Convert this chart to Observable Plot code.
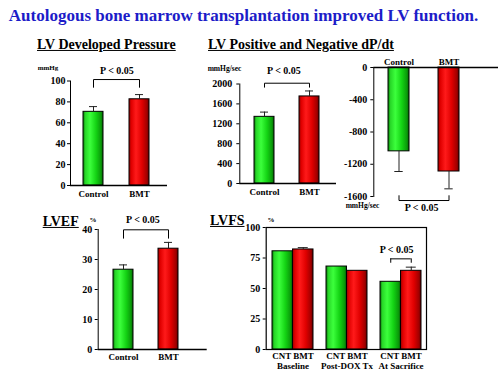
<!DOCTYPE html>
<html><head><meta charset="utf-8">
<script src="https://cdn.jsdelivr.net/npm/d3@7"></script>
<script src="https://cdn.jsdelivr.net/npm/@observablehq/plot@0.6"></script>
<style>
body{margin:0;background:#fff}
#root{position:relative;width:500px;height:375px;background:#fff;font-family:"Liberation Serif","DejaVu Serif",serif;font-weight:700;color:#000}
#root svg.plotsvg{position:absolute;left:0;top:0}
.t{position:absolute;white-space:nowrap;line-height:1.15}
</style></head><body>
<div id="root">
<svg width="0" height="0" style="position:absolute;left:0;top:0">
<defs>
<linearGradient id="gGreen" x1="0" x2="1" y1="0" y2="0">
<stop offset="0" stop-color="#0c7a0c"/><stop offset="0.12" stop-color="#28d828"/><stop offset="0.35" stop-color="#3cff3c"/><stop offset="0.65" stop-color="#14d414"/><stop offset="0.9" stop-color="#0a9a0a"/><stop offset="1" stop-color="#066006"/>
</linearGradient>
<linearGradient id="gRed" x1="0" x2="1" y1="0" y2="0">
<stop offset="0" stop-color="#9a0000"/><stop offset="0.12" stop-color="#e00000"/><stop offset="0.35" stop-color="#ff1a1a"/><stop offset="0.65" stop-color="#e00000"/><stop offset="0.9" stop-color="#a00000"/><stop offset="1" stop-color="#600000"/>
</linearGradient>
</defs></svg>
</div>
<script>
// ---------- data ----------
const mainTitle = "Autologous bone marrow transplantation improved LV function.";
const panelTitles = ["LV Developed Pressure", "LV Positive and Negative dP/dt", "LVEF", "LVFS"];
const groups2 = ["Control", "BMT"];
const devPressure = [70.5, 82.5];
const devPressureErr = [5, 4.5];
const devTicks = [0, 20, 40, 60, 80, 100];
const dpdtPos = [1340, 1750];
const dpdtPosErr = [95, 110];
const dpdtPosTicks = [0, 400, 800, 1200, 1600, 2000];
const dpdtNeg = [-1040, -1290];
const dpdtNegErr = [250, 215];
const dpdtNegTicks = [0, -400, -800, -1200, -1600];
const lvef = [26.6, 33.6];
const lvefErr = [1.6, 2.1];
const lvefTicks = [0, 10, 20, 30, 40];
const fsStages = ["Baseline", "Post-DOX Tx", "At Sacrifice"];
const fsCNT = [80.5, 68, 55.5];
const fsBMT = [82, 64.5, 64.5];
const fsBMTErr = [1.5, 0, 3];
const fsTicks = [0, 25, 50, 75, 100];
const pText = "P < 0.05";

const root = document.getElementById("root");
const FONT = "'Liberation Serif', 'DejaVu Serif', serif";

function label(txt, x, y, o = {}) {
  const d = document.createElement("div");
  d.className = "t";
  d.textContent = txt;
  d.style.left = x + "px";
  d.style.top = y + "px";
  d.style.fontSize = (o.size || 10) + "px";
  if (o.color) d.style.color = o.color;
  if (o.underline) d.style.textDecoration = "underline";
  const a = o.anchor || "middle";
  d.style.transform = `translate(${a === "middle" ? "-50%" : a === "end" ? "-100%" : "0"}, -50%)`;
  root.appendChild(d);
}

function place(svg) {
  svg.classList.add("plotsvg");
  root.appendChild(svg);
}

const baseStyle = {background: "transparent", fontFamily: FONT, fontWeight: "700", fontSize: "10px", color: "#000", overflow: "visible"};

function twoBarPanel(p) {
  const neg = p.vals[0] < 0;
  const rows = groups2.map((g, i) => ({g, v: p.vals[i], e: p.errs[i], top: p.vals[i] + (neg ? -1 : 1) * p.errs[i]}));
  const c0 = p.c0, c1 = p.c1, bw = p.bw;
  const bracket = [
    {g: groups2[0], y: p.bracket[0]}, {g: groups2[0], y: p.bracket[1]},
    {g: groups2[1], y: p.bracket[1]}, {g: groups2[1], y: p.bracket[0]}
  ];
  const svg = Plot.plot({
    width: 500, height: 375,
    marginLeft: p.ml, marginRight: p.mr, marginTop: p.mt, marginBottom: p.mb,
    style: baseStyle,
    x: {type: "band", domain: groups2, range: [c0 - bw / 2, c1 + bw / 2], paddingInner: 1 - bw / (c1 - c0), paddingOuter: 0, axis: null, label: null},
    y: {domain: p.domain, ticks: p.ticks, tickSize: 3, tickPadding: p.tp, label: null, line: true, tickFormat: d => String(d)},
    marks: [
      Plot.barY(rows.filter(d => d.g === "Control"), {x: "g", y: "v", fill: "url(#gGreen)", stroke: "#000", strokeWidth: 1}),
      Plot.barY(rows.filter(d => d.g === "BMT"), {x: "g", y: "v", fill: "url(#gRed)", stroke: "#000", strokeWidth: 1}),
      Plot.ruleX(rows, {x: "g", y1: "v", y2: "top", stroke: "#222", strokeWidth: 1}),
      Plot.tickY(rows, {x: "g", y: "top", stroke: "#222", strokeWidth: 1, insetLeft: bw / 2 - 4, insetRight: bw / 2 - 4}),
      Plot.ruleY([0], {stroke: "#000", strokeWidth: 1.5}),
      Plot.line(bracket, {x: "g", y: "y", stroke: "#000", strokeWidth: 1}),
      Plot.axisX({anchor: p.xAnchor || "bottom", tickSize: 0, tickPadding: p.xp, fontSize: 9, label: null})
    ]
  });
  place(svg);
}

// Panel 1: LV Developed Pressure
twoBarPanel({vals: devPressure, errs: devPressureErr, domain: [0, 100], ticks: devTicks,
  ml: 70, mr: 333, mt: 80.5, mb: 190, c0: 92.7, c1: 139, bw: 20, tp: 2, xp: 5, bracket: [94, 101.4]});
// Panel 2: +dP/dt
twoBarPanel({vals: dpdtPos, errs: dpdtPosErr, domain: [0, 2000], ticks: dpdtPosTicks,
  ml: 239.3, mr: 164, mt: 83.5, mb: 192, c0: 263.5, c1: 309, bw: 20, tp: 4.5, xp: 5, bracket: [1936, 2016]});
// Panel 3: -dP/dt
twoBarPanel({vals: dpdtNeg, errs: dpdtNegErr, domain: [-1600, 0], ticks: dpdtNegTicks,
  ml: 373.3, mr: 2, mt: 67, mb: 179, c0: 398, c1: 448, bw: 20.6, tp: 3.5, xp: 3, xAnchor: "top", bracket: [-1590, -1650]});
// Panel 4: LVEF
twoBarPanel({vals: lvef, errs: lvefErr, domain: [0, 40], ticks: lvefTicks,
  ml: 97.7, mr: 293.3, mt: 229, mb: 26, c0: 122.2, c1: 167.7, bw: 20, tp: 3, xp: 4, bracket: [37.1, 39.9]});

// Panel 5: LVFS
(function () {
  const rows = fsStages.map((s, i) => ({s, cnt: fsCNT[i], bmt: fsBMT[i], err: fsBMTErr[i], top: fsBMT[i] + fsBMTErr[i]}));
  const r0 = 271.7, r1 = 421, pi = 0.242;
  const bw = (r1 - r0) / (3 - pi) * (1 - pi);
  const errRows = rows.filter(d => d.err > 0);
  const sig = rows.filter(d => d.s === "At Sacrifice");
  const svg = Plot.plot({
    width: 500, height: 375,
    marginLeft: 265.7, marginRight: 74, marginTop: 227, marginBottom: 26,
    style: baseStyle,
    x: {type: "band", domain: fsStages, range: [r0, r1], paddingInner: pi, paddingOuter: 0, axis: null, label: null},
    y: {domain: [0, 100], ticks: fsTicks, tickSize: 3, tickPadding: 3, label: null},
    marks: [
      Plot.barY(rows, {x: "s", y: "cnt", fill: "url(#gGreen)", stroke: "#000", strokeWidth: 1, insetRight: bw / 2}),
      Plot.barY(rows, {x: "s", y: "bmt", fill: "url(#gRed)", stroke: "#000", strokeWidth: 1, insetLeft: bw / 2}),
      Plot.ruleX(errRows, {x: "s", y1: "bmt", y2: "top", dx: bw / 4, stroke: "#222"}),
      Plot.tickY(errRows, {x: "s", y: "top", stroke: "#222", insetLeft: 3 * bw / 4 - 5, insetRight: bw / 4 - 5}),
      Plot.tickY(sig, {x: "s", y: () => 74.3, stroke: "#000", insetLeft: bw / 4, insetRight: bw / 4}),
      Plot.ruleX(sig, {x: "s", y1: () => 70.7, y2: () => 74.3, dx: -bw / 4, stroke: "#000"}),
      Plot.ruleX(sig, {x: "s", y1: () => 70.7, y2: () => 74.3, dx: bw / 4, stroke: "#000"}),
      Plot.frame({stroke: "#000", strokeWidth: 1.2}),
      Plot.axisX({anchor: "bottom", tickSize: 0, tickPadding: 3, fontSize: 9, lineHeight: 1.05, label: null, tickFormat: d => `CNT BMT\n${d}`})
    ]
  });
  place(svg);
})();

// ---------- text ----------
label(mainTitle, 243.5, 16, {size: 17, color: "#1c1cc8"});
label(panelTitles[0], 37, 45, {size: 14, anchor: "start", underline: true});
label(panelTitles[1], 208, 45, {size: 14, anchor: "start", underline: true});
label(panelTitles[2], 42.7, 222, {size: 14, anchor: "start", underline: true});
label(panelTitles[3], 210, 220.5, {size: 14, anchor: "start", underline: true});
label("mmHg", 48, 68, {size: 7});
label("mmHg/sec", 224.5, 69, {size: 7.5});
label("mmHg/sec", 362.5, 206, {size: 7.5});
label("%", 93, 220, {size: 7});
label("%", 271, 220, {size: 7});
label(pText, 117, 71, {size: 10});
label(pText, 284, 71, {size: 10});
label(pText, 421.7, 208, {size: 10});
label(pText, 143, 220, {size: 10});
label(pText, 396.7, 250, {size: 10});
</script>
</body></html>
